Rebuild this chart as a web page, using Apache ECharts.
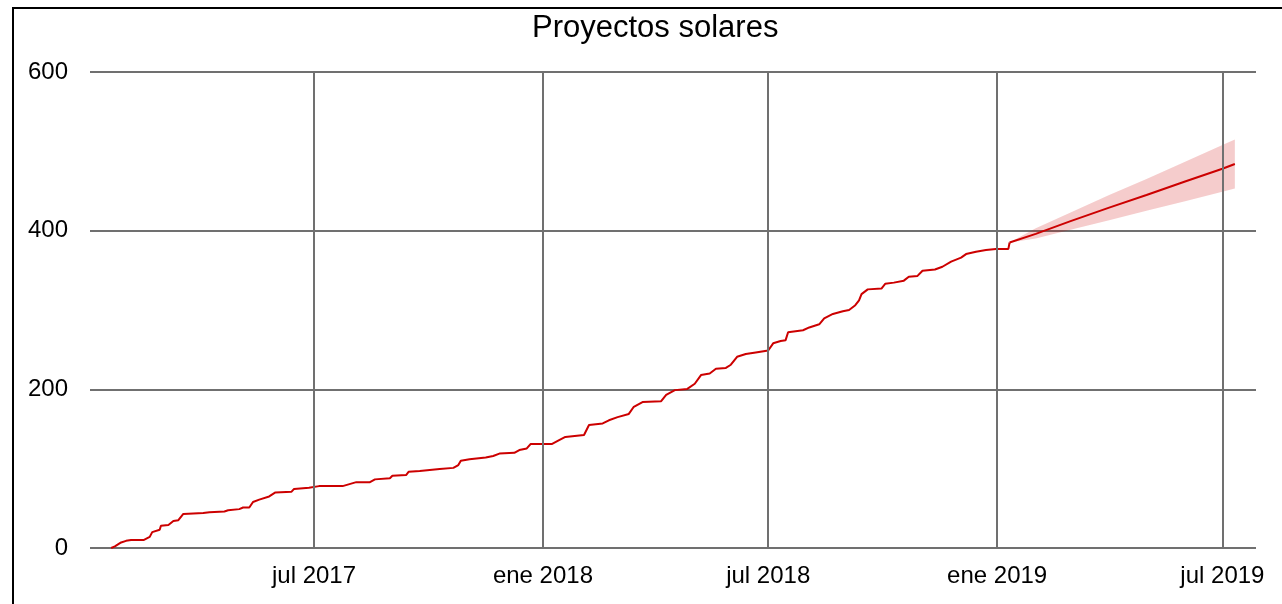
<!DOCTYPE html>
<html>
<head>
<meta charset="utf-8">
<script src="https://cdn.jsdelivr.net/npm/echarts@6/dist/echarts.min.js"></script>
<style>
  html, body { margin: 0; padding: 0; background: #fff; }
  #chart { width: 1282px; height: 604px; }
</style>
</head>
<body>
<div id="chart"></div>
<script>
// observed cumulative count of solar projects
var actualDates = [
  '2017-01-19', '2017-01-22', '2017-01-27', '2017-01-31', '2017-02-04', '2017-02-14',
  '2017-02-19', '2017-02-21', '2017-02-27', '2017-02-28', '2017-03-06', '2017-03-10',
  '2017-03-14', '2017-03-18', '2017-04-03', '2017-04-08', '2017-04-20', '2017-04-23',
  '2017-05-02', '2017-05-05', '2017-05-10', '2017-05-13', '2017-05-18', '2017-05-26',
  '2017-05-31', '2017-06-13', '2017-06-15', '2017-06-27', '2017-07-05', '2017-07-24',
  '2017-08-04', '2017-08-15', '2017-08-19', '2017-08-31', '2017-09-02', '2017-09-13',
  '2017-09-15', '2017-09-24', '2017-10-10', '2017-10-21', '2017-10-25', '2017-10-27',
  '2017-11-03', '2017-11-16', '2017-11-22', '2017-11-27', '2017-12-09', '2017-12-13',
  '2017-12-19', '2017-12-22', '2018-01-08', '2018-01-14', '2018-01-19', '2018-02-03',
  '2018-02-07', '2018-02-18', '2018-02-23', '2018-03-02', '2018-03-11', '2018-03-15',
  '2018-03-22', '2018-04-06', '2018-04-10', '2018-04-17', '2018-04-27', '2018-05-03',
  '2018-05-08', '2018-05-15', '2018-05-20', '2018-05-28', '2018-06-01', '2018-06-06',
  '2018-06-13', '2018-06-21', '2018-07-01', '2018-07-05', '2018-07-11', '2018-07-15',
  '2018-07-17', '2018-07-29', '2018-08-03', '2018-08-11', '2018-08-15', '2018-08-22',
  '2018-08-30', '2018-09-04', '2018-09-09', '2018-09-12', '2018-09-14', '2018-09-19',
  '2018-09-30', '2018-10-03', '2018-10-10', '2018-10-18', '2018-10-22', '2018-10-29',
  '2018-11-02', '2018-11-12', '2018-11-18', '2018-11-25', '2018-12-03', '2018-12-07',
  '2018-12-15', '2018-12-23', '2018-12-31', '2019-01-10', '2019-01-11'
];
var actualValues = [
  0, 2, 7, 9, 10, 10,
  14, 20, 23, 28, 29, 34,
  35, 43, 44, 45, 46, 47.5,
  49, 51, 51, 58, 61, 65,
  70, 71, 74.5, 76, 78, 78,
  83, 83, 86.5, 88, 91, 92,
  96, 97, 99.5, 101, 104.5, 110,
  112, 114, 116, 119, 120, 123.5,
  125.5, 131, 131, 136, 140, 142.5,
  155, 157, 161, 165, 169, 178,
  184, 185, 193, 199, 200.5, 207,
  218, 220, 226, 227, 231, 241,
  244.5, 246.5, 249, 258, 261, 262,
  272, 274.5, 278, 282, 289.5, 295,
  298.5, 300, 306, 312, 320, 326,
  327, 333, 334.5, 337, 342, 343,
  349.5, 351, 354.5, 361, 366, 370.5,
  373.5, 375.5, 377, 377, 385
];

// forecast and its interval
var fcDates = ['2019-01-11', '2019-02-01', '2019-03-01', '2019-04-01', '2019-05-01', '2019-06-01', '2019-07-01', '2019-07-11'];
var fcMean  = [385, 396, 412, 429, 445, 462, 478, 484];
var fcLower = [385, 390, 401, 413, 425, 437, 449, 453];
var fcUpper = [385, 403, 423, 445, 465, 487, 508, 515];

var xTickDates = ['2017-07-01', '2018-01-01', '2018-07-01', '2019-01-01', '2019-07-01'];
var yTicks = [0, 200, 400, 600];
var monthNames = ['ene', 'feb', 'mar', 'abr', 'may', 'jun', 'jul', 'ago', 'sep', 'oct', 'nov', 'dic'];

var font = 'Liberation Sans, Arial, sans-serif';
var gridColor = '#707070';
var red = '#cc0000';

var myChart = echarts.init(document.getElementById('chart'));
var option = {
    animation: false,
    backgroundColor: '#fff',
    title: {
        text: 'Proyectos solares',
        left: 527,
        top: 8,
        textStyle: { fontFamily: font, fontSize: 31, fontWeight: 'normal', color: '#000' }
    },
    graphic: [{
        type: 'rect',
        shape: { x: 13, y: 8, width: 1400, height: 800 },
        style: { fill: null, stroke: '#000', lineWidth: 2 },
        silent: true
    }],
    grid: { left: 90, right: 26, top: 72, bottom: 56 },
    xAxis: {
        type: 'time',
        min: '2017-01-02',
        max: '2019-07-28',
        axisLine: { show: false },
        axisTick: { show: false },
        axisLabel: {
            margin: 16,
            fontFamily: font,
            fontSize: 24,
            color: '#000',
            formatter: function (val) {
                var d = new Date(val);
                var m = d.getMonth();
                // only january / july labels
                if (d.getDate() !== 1 || (m !== 0 && m !== 6)) return '';
                return monthNames[m] + ' ' + d.getFullYear();
            }
        },
        splitLine: { show: false }
    },
    yAxis: {
        type: 'value',
        min: yTicks[0],
        max: yTicks[yTicks.length - 1],
        interval: yTicks[1] - yTicks[0],
        axisLine: { show: false },
        axisTick: { show: false },
        axisLabel: { margin: 22, fontFamily: font, fontSize: 24, color: '#000' },
        splitLine: { show: true, lineStyle: { color: gridColor, width: 2 } }
    },
    series: [
        {
            type: 'line',
            stack: 'band',
            data: fcDates.map(function (d, i) { return [d, fcLower[i]]; }),
            showSymbol: false,
            symbol: 'none',
            lineStyle: { opacity: 0 },
            silent: true,
            z: 1,
            // vertical grid lines every six months
            markLine: {
                silent: true,
                symbol: ['none', 'none'],
                label: { show: false },
                lineStyle: { color: gridColor, width: 2, type: 'solid' },
                emphasis: { disabled: true },
                data: xTickDates.map(function (d) { return { xAxis: d }; })
            }
        },
        {
            type: 'line',
            stack: 'band',
            data: fcDates.map(function (d, i) { return [d, fcUpper[i] - fcLower[i]]; }),
            showSymbol: false,
            symbol: 'none',
            lineStyle: { opacity: 0 },
            areaStyle: { color: 'rgba(204,0,0,0.2)', opacity: 1 },
            silent: true,
            z: 1
        },
        {
            type: 'line',
            data: actualDates.map(function (d, i) { return [d, actualValues[i]]; }),
            showSymbol: false,
            symbol: 'none',
            lineStyle: { color: red, width: 2 },
            z: 3
        },
        {
            type: 'line',
            data: fcDates.map(function (d, i) { return [d, fcMean[i]]; }),
            showSymbol: false,
            symbol: 'none',
            lineStyle: { color: red, width: 2 },
            z: 3
        }
    ]
};
myChart.setOption(option);
window.addEventListener('resize', function () {
    myChart.resize();
});
</script>
</body>
</html>
